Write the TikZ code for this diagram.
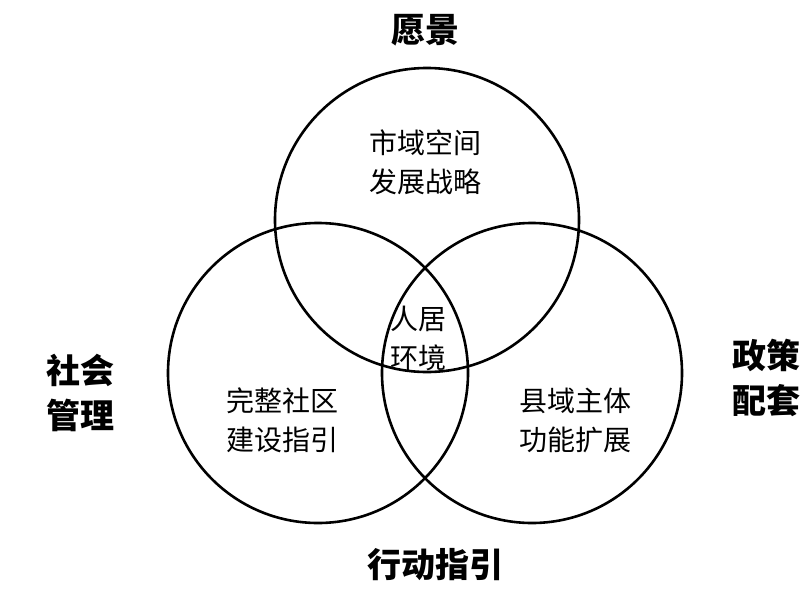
\documentclass[tikz,border=0pt]{standalone}
\usepackage{fontspec}
\setmainfont{Liberation Sans}
\newfontfamily\cjk{Noto Sans CJK SC}
\begin{document}
\begin{tikzpicture}[x=1pt,y=-1pt,
    ring/.style={line width=2.6pt},
    inner/.style={font=\cjk\fontsize{28}{39}\selectfont,align=center},
    outer/.style={font=\cjk\bfseries\fontsize{34}{45}\selectfont,align=center}]
    \useasboundingbox (0,0) rectangle (811,597);

    % Kreise
    \draw[ring] (427,220) circle (152);
    \draw[ring] (318,373) circle (150);
    \draw[ring] (532,373) circle (150);

    % Innen
    \node[inner] (top) at (425,162) {市域空间\\发展战略};
    \node[inner] (mid) at (418,338) {人居\\环境};
    \node[inner] (left) at (282,420) {完整社区\\建设指引};
    \node[inner] (right) at (575,420) {县域主体\\功能扩展};

    % Aussen
    \node[outer] (vision) at (425,30) {愿景};
    \node[outer] (social) at (80,393) {社会\\管理};
    \node[outer] (policy) at (766,378) {政策\\配套};
    \node[outer] (action) at (435,565) {行动指引};
\end{tikzpicture}
\end{document}
